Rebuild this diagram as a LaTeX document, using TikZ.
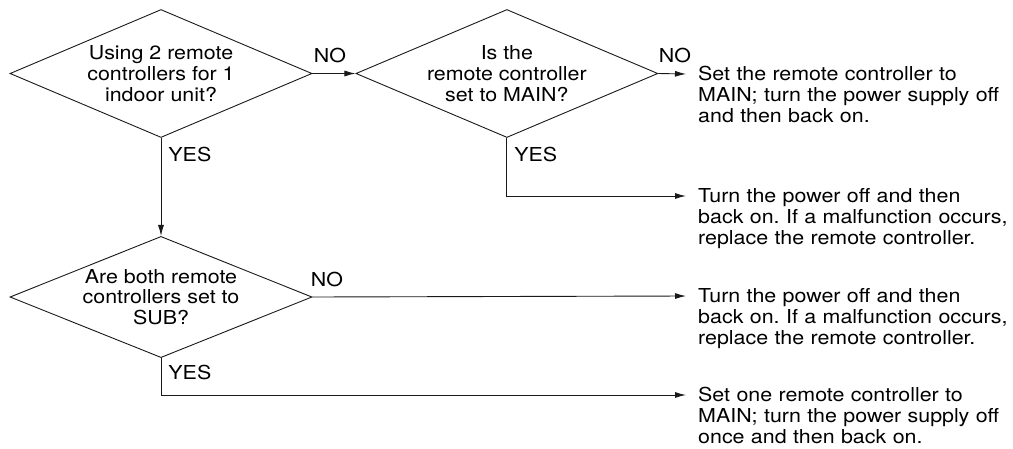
\documentclass[tikz,border=0pt]{standalone}
\usepackage{fontspec}
\setmainfont[FakeStretch=1.115]{TeX Gyre Heros}
\usetikzlibrary{
    arrows.meta,
    positioning,
    shapes.geometric
}
\frenchspacing

\begin{document}
\begin{tikzpicture}[
        x=1pt, y=-1pt,
        every node/.style={font=\fontsize{19.2}{20.8}\selectfont},
        decision/.style={
            diamond,
            aspect=2.4,
            draw=black!90,
            line width=0.9pt,
            minimum width=302pt,
            minimum height=128pt,
            align=center,
            inner sep=0pt
        },
        action/.style={
            anchor=base west,
            text width=330pt,
            align=left,
            inner xsep=12pt,
            inner ysep=0pt
        },
        flow/.style={-{Latex[length=11pt,width=6pt]},line width=0.9pt,draw=black!90},
        tag/.style={inner sep=0pt}
    ]
        \useasboundingbox (0,0) rectangle (1013,448);

        \node[decision] (twin) at (161,73.5) {Using 2 remote\\controllers for 1\\indoor unit?};
        \node[decision, right=43pt of twin] (main) {Is the\\remote controller\\set to MAIN?};
        \node[decision, below=98pt of twin, minimum height=121pt] (sub) {Are both remote\\controllers set to\\SUB?};

        \node[action] (setmain) at (686,80.7)
            {Set the remote controller to\\MAIN; turn the power supply off\\and then back on.};
        \node[action] (powerA) at (686,202.7)
            {Turn the power off and then\\back on. If a malfunction occurs,\\replace the remote controller.};
        \node[action] (powerB) at (686,302.7)
            {Turn the power off and then\\back on. If a malfunction occurs,\\replace the remote controller.};
        \node[action] (setone) at (686,401.7)
            {Set one remote controller to\\MAIN; turn the power supply off\\once and then back on.};

        \draw[flow] (twin.east) -- node[tag, pos=0, above right=10pt and 1pt] {NO} (main.west);
        \draw[flow] (twin.south) -- node[tag, pos=0, below right=9pt and 7pt] {YES} (sub.north);
        \draw[flow] (main.east) -- node[tag, pos=0, above right=10pt and 0pt] {NO} ([yshift=6.7pt]setmain.base west);
        \draw[flow] (main.south) |- node[tag, pos=0, below right=9pt and 7pt] {YES} ([yshift=6.7pt]powerA.base west);
        \draw[flow] (sub.east) -- node[tag, pos=0, above right=10pt and -2pt] {NO} ([yshift=6.7pt]powerB.base west);
        \draw[flow] (sub.south) |- node[tag, pos=0, below right=7pt and 7pt] {YES} ([yshift=6.7pt]setone.base west);
    \end{tikzpicture}
\end{document}
